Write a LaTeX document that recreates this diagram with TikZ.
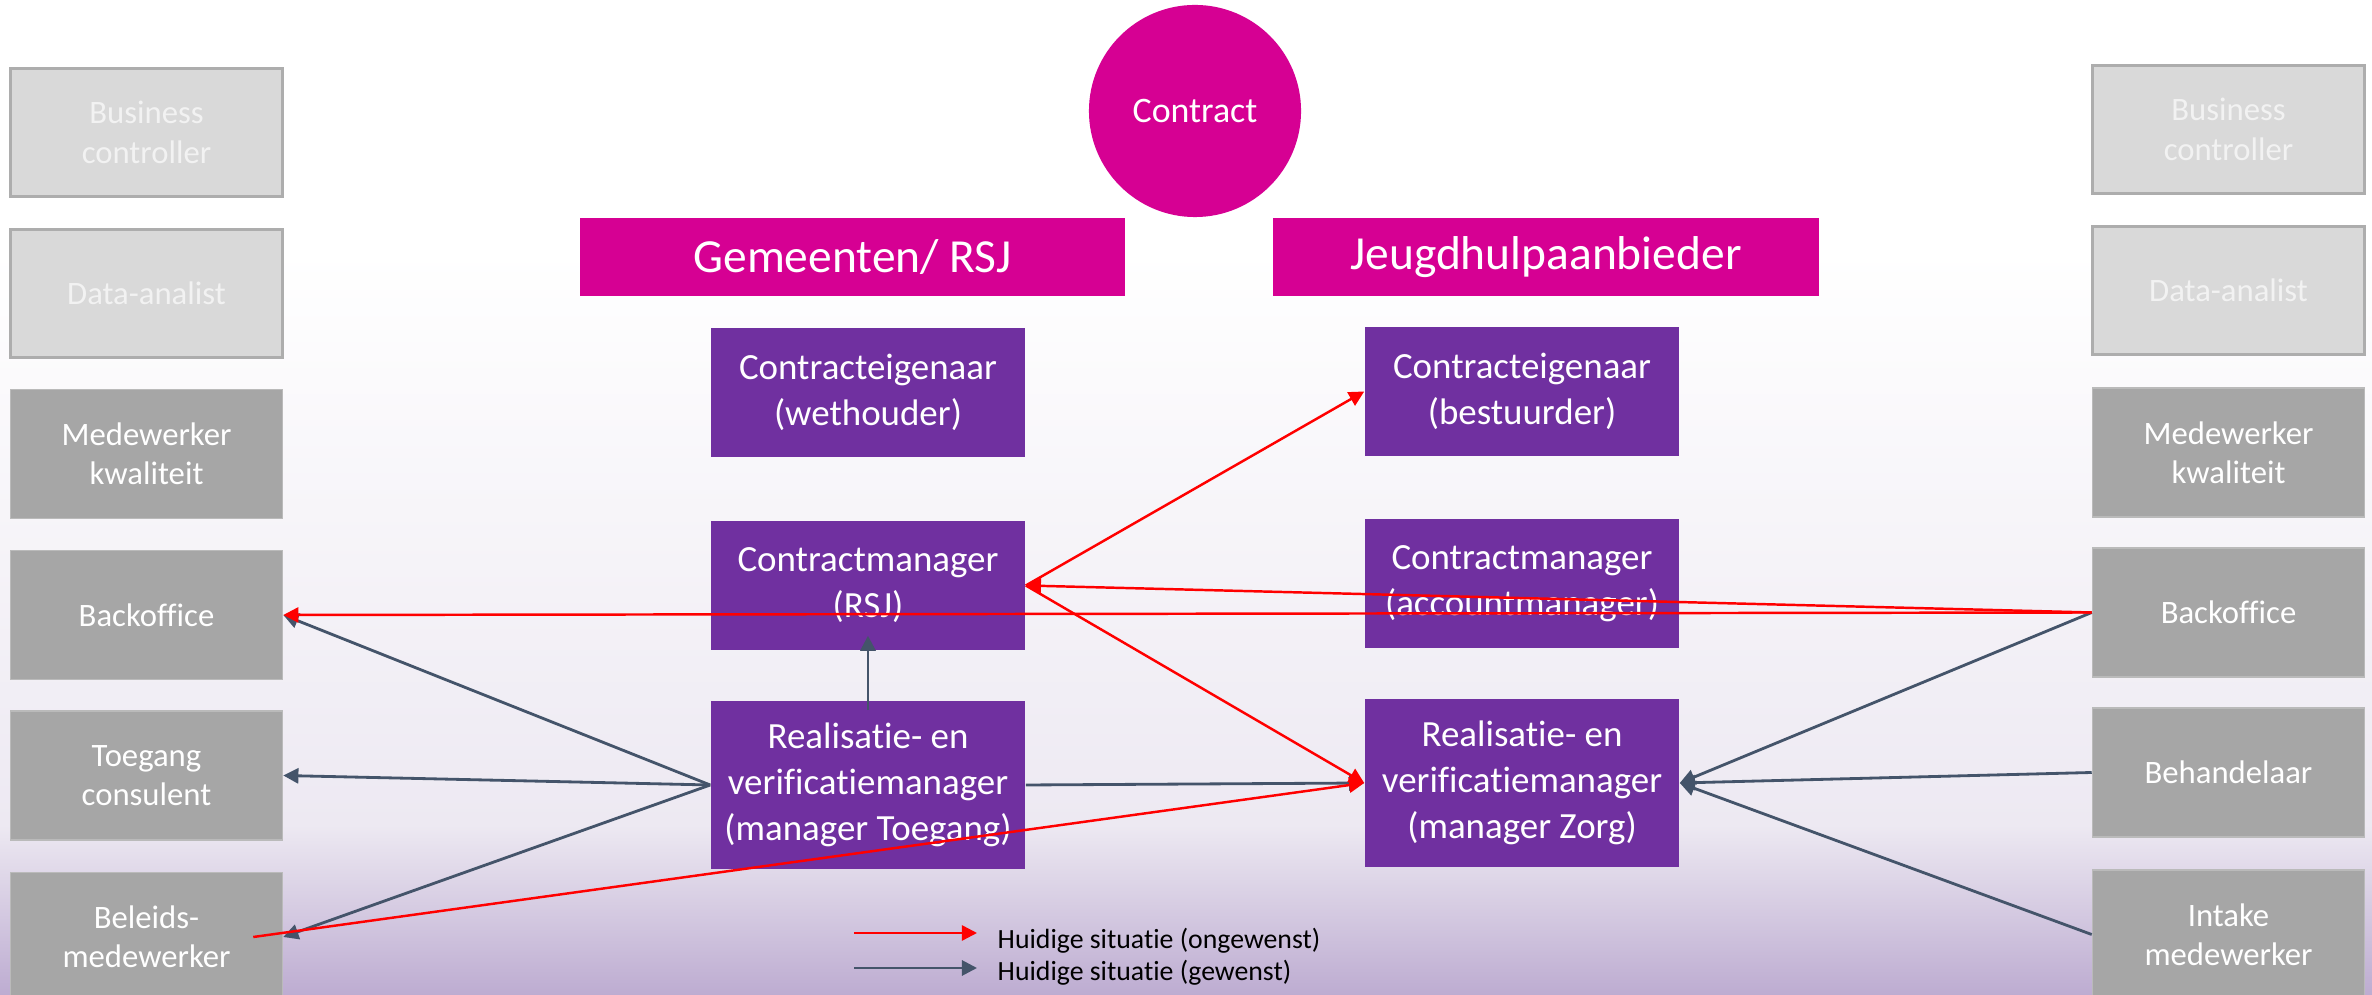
\documentclass[tikz,border=0pt]{standalone}
\usepackage{fontspec}
\setmainfont[Ligatures={NoCommon,NoContextual}]{Carlito}
\usepackage{tikz}
\usetikzlibrary{arrows.meta}

\definecolor{rolpaars}{HTML}{7030A0}
\definecolor{rolroze}{HTML}{D60093}
\definecolor{rolgrijs}{HTML}{A6A6A6}
\definecolor{rollicht}{HTML}{D9D9D9}
\definecolor{pijlgrijs}{HTML}{44546A}
\definecolor{achtermidden}{HTML}{EDE9F2}
\definecolor{achteronder}{HTML}{BDACD1}

\tikzset{
  lichtrol/.style={rectangle, draw=black!32, line width=0.7pt, fill=rollicht, text=white!95!black,
    minimum width=2.72cm, minimum height=1.28cm, align=center, font=\fontsize{9.3}{11.2}\selectfont},
  donkerrol/.style={rectangle, draw=black!27, line width=0.4pt, fill=rolgrijs, text=white,
    minimum width=2.72cm, minimum height=1.29cm, align=center, font=\fontsize{9.3}{11.2}\selectfont},
  partij/.style={rectangle, fill=rolroze, text=white, minimum width=5.45cm, minimum height=0.78cm,
    font=\fontsize{13.5}{16}\selectfont},
  functie/.style={rectangle, fill=rolpaars, text=white, minimum width=3.14cm, minimum height=1.29cm,
    align=center, font=\fontsize{10.5}{13.1}\selectfont},
  ongewenst/.style={draw=red, line width=0.7pt, -{Triangle[length=4.3pt,width=4.3pt]}},
  gewenst/.style={draw=pijlgrijs, line width=0.8pt, -{Triangle[length=4.3pt,width=4.3pt]}},
  legendatekst/.style={anchor=base west, inner sep=0pt, font=\fontsize{7.9}{9.4}\selectfont}
}

\begin{document}
\begin{tikzpicture}[x=0.01cm, y=-0.01cm]
      \useasboundingbox (0,0) rectangle (2372,995);
      \fill[white] (0,0) rectangle (2372,250);
      \shade[top color=white, bottom color=achtermidden] (0,250) rectangle (2372,825);
      \shade[top color=achtermidden, bottom color=achteronder] (0,825) rectangle (2372,995);

      \node[name=contract, circle, fill=rolroze, text=white, minimum size=2.12cm, inner sep=0pt,
        font=\fontsize{10.2}{12}\selectfont] at (1195,111){Contract};
      \node[name=gemeente, partij] at (852.5,257){Gemeenten/ RSJ};
      \node[name=aanbieder, partij] at (1546,257){Jeugdhulpaanbieder};

      \node[name=eig1, functie] at (868,392.5){Contracteigenaar\\(wethouder)};
      \node[name=eig2, functie] at (1522,391.5){Contracteigenaar\\(bestuurder)};
      \node[name=cm1, functie] at (868,585.5){Contractmanager\\(RSJ)};
      \node[name=cm2, functie] at (1522,583.5){Contractmanager\\(accountmanager)};
      \node[name=rv1, functie, minimum height=1.68cm] at (868,785){Realisatie- en\\verificatiemanager\\(manager Toegang)};
      \node[name=rv2, functie, minimum height=1.68cm] at (1522,783){Realisatie- en\\verificatiemanager\\(manager Zorg)};

      \node[name=lbc, lichtrol] at (146.5,132.5){Business\\controller};
      \node[name=lda, lichtrol] at (146.5,293.5){Data-analist};
      \node[name=lmk, donkerrol] at (146.5,454){Medewerker\\kwaliteit};
      \node[name=lbo, donkerrol] at (146.5,615){Backoffice};
      \node[name=ltc, donkerrol] at (146.5,775.5){Toegang\\consulent};
      \node[name=lbm, donkerrol] at (146.5,937){Beleids-\\medewerker};

      \node[name=rbc, lichtrol] at (2228.5,129.5){Business\\controller};
      \node[name=rda, lichtrol] at (2228.5,290.5){Data-analist};
      \node[name=rmk, donkerrol] at (2228.5,452.5){Medewerker\\kwaliteit};
      \node[name=rbo, donkerrol] at (2228.5,612.5){Backoffice};
      \node[name=rbh, donkerrol] at (2228.5,772.5){Behandelaar};
      \node[name=rim, donkerrol] at (2228.5,934.5){Intake\\medewerker};

      \draw[gewenst, shorten <=-0.1cm, shorten >=-0.15cm] (rv1.north) -- (cm1.south);
      \draw[gewenst] (rv1.west) -- (lbo.east);
      \draw[gewenst] (rv1.west) -- (ltc.east);
      \draw[gewenst] (rv1.west) -- (lbm.east);
      \draw[gewenst] (rv1.east) -- (rv2.west);
      \draw[gewenst] (rbo.west) -- (rv2.east);
      \draw[gewenst] (rbh.west) -- (rv2.east);
      \draw[gewenst] (rim.west) -- (rv2.east);

      \coordinate (beleidstart) at ([xshift=-0.3cm]lbm.east);
      \draw[ongewenst] (cm1.east) -- (eig2.west);
      \draw[ongewenst] (rbo.west) -- (cm1.east);
      \draw[ongewenst] (rbo.west) -- (lbo.east);
      \draw[ongewenst] (cm1.east) -- (rv2.west);
      \draw[ongewenst] (beleidstart) -- (rv2.west);

      \coordinate (leg1a) at (854,933);
      \coordinate (leg1b) at (977,933);
      \coordinate (leg2a) at (854,968);
      \coordinate (leg2b) at (977,968);
      \draw[ongewenst] (leg1a) -- (leg1b);
      \draw[gewenst] (leg2a) -- (leg2b);
      \node[name=legenda1, legendatekst] at (997,949){Huidige situatie (ongewenst)};
      \node[name=legenda2, legendatekst] at (997,981){Huidige situatie (gewenst)};
   \end{tikzpicture}
\end{document}
